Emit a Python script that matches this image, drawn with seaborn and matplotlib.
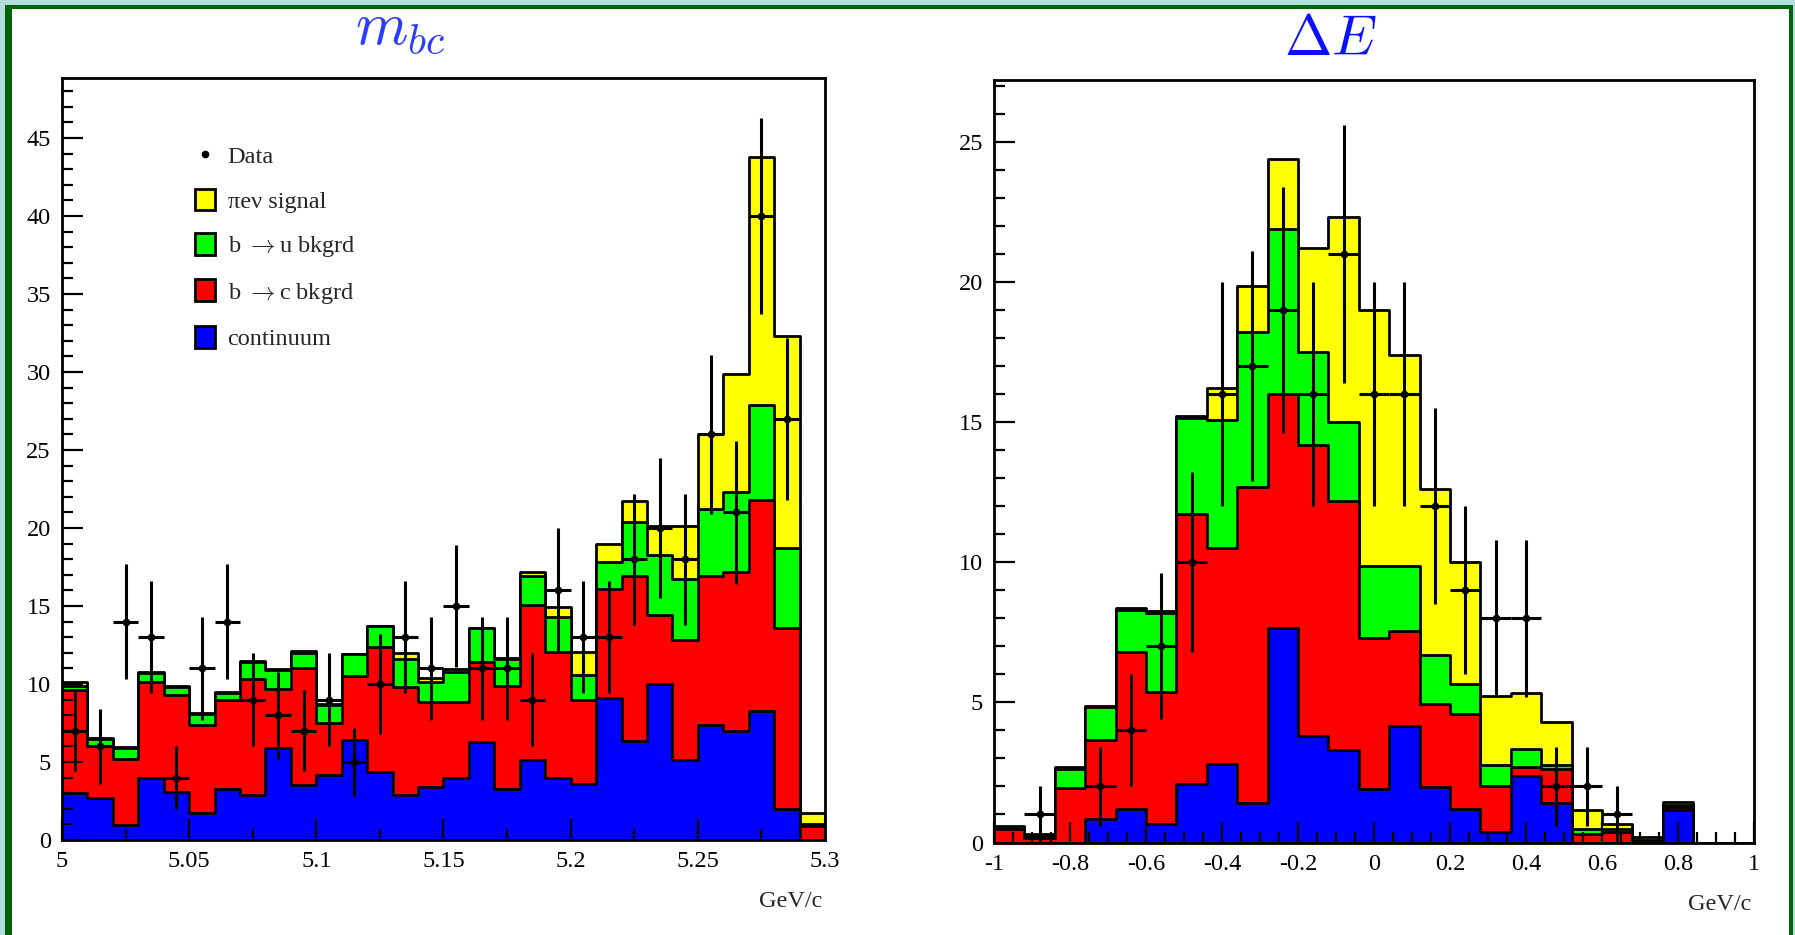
import numpy as np
import pandas as pd
import matplotlib
matplotlib.use("Agg")
import matplotlib.pyplot as plt
import seaborn as sns
from matplotlib.patches import Patch, Rectangle
from matplotlib.lines import Line2D
from matplotlib.ticker import FixedLocator, MultipleLocator

# ---------------------------------------------------------------- data
# m_bc panel: 30 bins of 0.01 GeV/c^2 between 5.00 and 5.30
mbc_bin_edges = [round(5.0 + 0.01 * i, 3) for i in range(31)]
mbc_continuum = [3.0, 2.67, 0.96, 3.95, 3.1, 1.7, 3.3, 2.9, 5.9, 3.5,
                 4.17, 6.4, 4.38, 2.9, 3.42, 3.95, 6.3, 3.3, 5.1, 3.95,
                 3.6, 9.13, 6.35, 9.97, 5.1, 7.4, 7.0, 8.27, 2.0, 0.0]
mbc_b_to_c = [6.6, 3.33, 4.24, 6.2, 6.2, 5.7, 5.7, 7.4, 3.76, 7.55,
              3.31, 4.1, 8.02, 6.93, 5.45, 4.92, 5.13, 6.6, 9.96, 8.12,
              5.4, 6.97, 10.55, 4.43, 7.75, 9.5, 10.2, 13.53, 11.6, 0.9]
mbc_b_to_u = [0.3, 0.5, 0.7, 0.55, 0.5, 0.7, 0.4, 1.1, 1.24, 0.95,
              1.17, 1.4, 1.3, 1.77, 1.28, 1.93, 2.14, 1.7, 1.84, 2.23,
              1.6, 1.7, 3.5, 3.9, 3.85, 4.3, 5.1, 6.1, 5.1, 0.15]
mbc_signal = [0.25, 0.05, 0.05, 0.05, 0.05, 0.05, 0.1, 0.05, 0.05, 0.1,
              0.05, 0.05, 0.05, 0.37, 0.25, 0.14, 0.05, 0.05, 0.3, 0.66,
              1.45, 1.15, 1.3, 1.8, 3.4, 4.8, 7.55, 15.9, 13.6, 0.7]
mbc_data = [7, 6, 14, 13, 4, 11, 14, 9, 8, 7,
            9, 5, 10, 13, 11, 15, 11, 11, 9, 16,
            13, 13, 18, 20, 18, 26, 21, 40, 27, 0]
mbc_data_err = [2.6, 2.4, 3.7, 3.6, 2.0, 3.3, 3.7, 3.0, 2.8, 2.6,
                3.0, 2.2, 3.2, 3.6, 3.3, 3.9, 3.3, 3.3, 3.0, 4.0,
                3.6, 3.6, 4.2, 4.5, 4.2, 5.1, 4.6, 6.3, 5.2, 0.0]
mbc_xticks = [5.0, 5.05, 5.1, 5.15, 5.2, 5.25, 5.3]
mbc_xticklabels = ["5", "5.05", "5.1", "5.15", "5.2", "5.25", "5.3"]
mbc_yticks = [0, 5, 10, 15, 20, 25, 30, 35, 40, 45]

# Delta E panel: 25 bins of 0.08 GeV between -1 and 1
de_bin_edges = [round(-1.0 + 0.08 * i, 3) for i in range(26)]
de_continuum = [0, 0, 0, 0.83, 1.19, 0.65, 2.1, 2.79, 1.4, 7.64,
                3.8, 3.3, 1.9, 4.17, 1.97, 1.2, 0.38, 2.37, 1.42, 0,
                0, 0, 1.15, 0, 0]
de_b_to_c = [0.5, 0.15, 1.96, 2.82, 5.61, 4.71, 9.62, 7.73, 11.3, 8.36,
             10.37, 8.9, 5.4, 3.37, 2.97, 3.4, 1.62, 0.33, 1.19, 0.3,
             0.38, 0.05, 0.1, 0, 0]
de_b_to_u = [0.05, 0.1, 0.68, 1.17, 1.5, 2.84, 3.43, 4.56, 5.5, 5.9,
             3.33, 2.8, 2.57, 2.33, 1.76, 1.05, 0.77, 0.64, 0.17, 0.2,
             0.12, 0.03, 0.1, 0, 0]
de_signal = [0.05, 0.05, 0.04, 0.04, 0.06, 0.05, 0.05, 1.12, 1.67, 2.5,
             3.7, 7.3, 9.13, 7.53, 5.9, 4.35, 2.46, 1.99, 1.52, 0.66,
             0.16, 0.1, 0.1, 0, 0]
de_data = [0, 1, 0, 2, 4, 7, 10, 16, 17, 19,
           16, 21, 16, 16, 12, 9, 8, 8, 2, 2,
           1, 0, 0, 0, 0]
de_data_err = [0, 1.0, 0, 1.4, 2.0, 2.6, 3.2, 4.0, 4.1, 4.4,
               4.0, 4.6, 4.0, 4.0, 3.5, 3.0, 2.8, 2.8, 1.4, 1.4,
               1.0, 0, 0, 0, 0]
de_xticks = [-1, -0.8, -0.6, -0.4, -0.2, 0, 0.2, 0.4, 0.6, 0.8, 1]
de_xticklabels = ["-1", "-0.8", "-0.6", "-0.4", "-0.2", "0", "0.2", "0.4",
                  "0.6", "0.8", "1"]
de_yticks = [0, 5, 10, 15, 20, 25]

legend_labels = ["Data", "\u03c0e\u03bd signal", r"b $\rightarrow$u bkgrd",
                 r"b $\rightarrow$c bkgrd", "continuum"]

# ---------------------------------------------------------------- style
sns.set_style("ticks")
plt.rcParams["font.family"] = ["Liberation Serif", "DejaVu Serif"]
plt.rcParams["mathtext.fontset"] = "cm"
plt.rcParams["axes.unicode_minus"] = False

YELLOW = "#ffff00"
GREEN = "#00ff00"
RED = "#ff0000"
BLUE = "#0000ff"
EDGE_LW = 2.0

fig = plt.figure(figsize=(17.95, 9.35), dpi=100)
fig.patch.set_facecolor("#b4dede")
fig.patches.append(Rectangle((0.00256, -0.1), 0.99616, 1.09497,
                             transform=fig.transFigure, facecolor="#006400",
                             edgecolor="none", zorder=-10))
fig.patches.append(Rectangle((0.006407, -0.1), 0.99042, 1.090053,
                             transform=fig.transFigure, facecolor="white",
                             edgecolor="none", zorder=-9))

ax1 = fig.add_axes([0.0345, 0.1016, 0.4251, 0.815])
ax2 = fig.add_axes([0.5538, 0.0989, 0.4234, 0.8155])


def draw_panel(ax, edges, cont, bc, bu, sig, data, err):
    edges_arr = np.asarray(edges, dtype=float)
    centers = 0.5 * (edges_arr[:-1] + edges_arr[1:])
    widths = np.diff(edges_arr)
    lev_blue = np.asarray(cont, dtype=float)
    lev_red = lev_blue + np.asarray(bc)
    lev_green = lev_red + np.asarray(bu)
    lev_yellow = lev_green + np.asarray(sig)
    for lev, col in [(lev_yellow, YELLOW), (lev_green, GREEN),
                     (lev_red, RED), (lev_blue, BLUE)]:
        df = pd.DataFrame({"x": centers, "w": lev})
        sns.histplot(data=df, x="x", weights="w", bins=list(edges),
                     element="step", fill=True, color=col,
                     edgecolor="black", linewidth=EDGE_LW, alpha=1.0,
                     ax=ax)
    d = np.asarray(data, dtype=float)
    e = np.asarray(err, dtype=float)
    m = d > 0
    ax.errorbar(centers[m], d[m], yerr=e[m], xerr=widths[m] / 2,
                fmt="o", ms=4.5, color="black", ecolor="black",
                elinewidth=2.2, capsize=0, zorder=6)
    ax.set_xlabel("")
    ax.set_ylabel("")
    ax.set_facecolor("white")
    for sp in ax.spines.values():
        sp.set_visible(True)
        sp.set_linewidth(2.0)
        sp.set_color("black")
    ax.set_axisbelow(False)
    ax.tick_params(which="both", direction="in", top=False, right=False,
                   width=1.6, colors="black", labelsize=17.5)
    ax.tick_params(which="major", length=15, pad=8)
    ax.tick_params(which="minor", length=8)
    ax.text(0.997, -0.081, "GeV/c", transform=ax.transAxes,
            ha="right", va="center", fontsize=17.5)


draw_panel(ax1, mbc_bin_edges, mbc_continuum, mbc_b_to_c, mbc_b_to_u,
           mbc_signal, mbc_data, mbc_data_err)
ax1.set_xlim(5.0, 5.3)
ax1.set_ylim(0, 48.85)
ax1.xaxis.set_major_locator(FixedLocator(mbc_xticks))
ax1.set_xticklabels(mbc_xticklabels)
ax1.xaxis.set_minor_locator(MultipleLocator(0.025))
ax1.yaxis.set_major_locator(FixedLocator(mbc_yticks))
ax1.set_yticklabels([str(v) for v in mbc_yticks])
ax1.yaxis.set_minor_locator(MultipleLocator(1))

draw_panel(ax2, de_bin_edges, de_continuum, de_b_to_c, de_b_to_u,
           de_signal, de_data, de_data_err)
ax2.set_xlim(-1, 1)
ax2.set_ylim(0, 27.2)
ax2.xaxis.set_major_locator(FixedLocator(de_xticks))
ax2.set_xticklabels(de_xticklabels)
ax2.xaxis.set_minor_locator(MultipleLocator(0.05))
ax2.yaxis.set_major_locator(FixedLocator(de_yticks))
ax2.set_yticklabels([str(v) for v in de_yticks])
ax2.yaxis.set_minor_locator(MultipleLocator(1))

# legend in the m_bc panel
handles = [Line2D([], [], marker="o", ms=4.5, color="black", ls="none")]
for col in [YELLOW, GREEN, RED, BLUE]:
    handles.append(Patch(facecolor=col, edgecolor="black", linewidth=2.0))
ax1.legend(handles, legend_labels, loc="upper left",
           bbox_to_anchor=(0.174, 0.913), frameon=False, fontsize=17.5,
           handlelength=0.85, handleheight=1.0, handletextpad=0.5,
           labelspacing=0.83, borderpad=0, borderaxespad=0)

# panel titles
fig.text(0.2228, 0.968, r"$m_{bc}$", fontsize=43, color="#2a3cff",
         ha="center", va="center")
fig.text(0.741, 0.956, r"$\Delta E$", fontsize=41, color="#0a10ff",
         ha="center", va="center")

fig.savefig("out.png", dpi=100, facecolor=fig.get_facecolor())
